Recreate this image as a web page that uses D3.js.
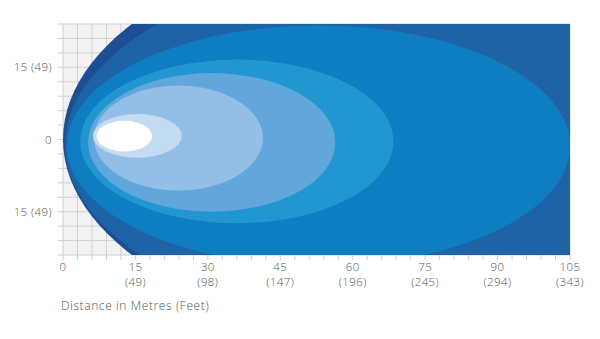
<!DOCTYPE html>
<html><head><meta charset="utf-8">
<script src="https://cdn.jsdelivr.net/npm/d3@7"></script>
<style>
html,body{margin:0;padding:0;background:#fff;}
svg{display:block;}
text{font-family:"Open Sans",sans-serif;font-weight:300;fill:#555;}
</style></head>
<body>
<svg id="chart" width="600" height="339"></svg>
<script>
// ---- data (metres) ----
const xTickValues = [0, 15, 30, 45, 60, 75, 90, 105];
const xTickFeet   = [null, 49, 98, 147, 196, 245, 294, 343];
const yTickValues = [15, 0, -15];
const yTickFeet   = [49, null, 49];
const xDomain = [0, 105];
const yDomain = [-24, 24];
const gridStep = 3;

// beam zones, outermost first
const zoneCentreX    = [77.9, 94.8, 52.9, 36.0, 30.8, 23.9, 15.4, 12.7];
const zoneCentreY    = [0.0, -1.1, -1.3, -0.4, -0.6, 0.3, 0.75, 0.7];
const zoneHalfLength = [77.9, 94.4, 52.1, 32.45, 25.6, 17.5, 9.2, 5.75];
const zoneHalfWidth  = [41.6, 41.6, 25.0, 17.0, 14.4, 10.9, 4.55, 3.2];
const zoneColors = ["#1d4d92", "#1f63a7", "#0f7dc1", "#2196d0", "#62a7dc", "#93bfe7", "#c4dcf2", "#ffffff"];

// ---- layout ----
const svg = d3.select("#chart");
const L = 63, R = 570, T = 24, B = 255;
const x = d3.scaleLinear().domain(xDomain).range([L, R]);
const y = d3.scaleLinear().domain(yDomain).range([B, T]);

svg.append("defs").append("clipPath").attr("id", "plotclip")
  .append("rect").attr("x", L).attr("y", T).attr("width", R - L).attr("height", B - T);

// grid background
svg.append("rect").attr("x", L).attr("y", T).attr("width", R - L).attr("height", B - T).attr("fill", "#f2f2f4");

const gridX = d3.range(xDomain[0], xDomain[1] + 0.001, gridStep);
const gridY = d3.range(yDomain[0], yDomain[1] + 0.001, gridStep);

svg.append("g").selectAll("line").data(gridX).join("line")
  .attr("x1", d => x(d)).attr("x2", d => x(d))
  .attr("y1", T).attr("y2", B + 5)
  .attr("stroke", "#d0d0d2").attr("stroke-width", 1);
svg.append("g").selectAll("line").data(gridY).join("line")
  .attr("x1", L - 5).attr("x2", R)
  .attr("y1", d => y(d)).attr("y2", d => y(d))
  .attr("stroke", "#d0d0d2").attr("stroke-width", 1);

// zones
const zones = d3.range(zoneColors.length).map(i => ({
  cx: zoneCentreX[i], cy: zoneCentreY[i], rx: zoneHalfLength[i], ry: zoneHalfWidth[i], color: zoneColors[i]
}));
svg.append("g").attr("clip-path", "url(#plotclip)")
  .selectAll("ellipse").data(zones).join("ellipse")
  .attr("cx", d => x(d.cx))
  .attr("cy", d => y(d.cy))
  .attr("rx", d => x(d.cx + d.rx) - x(d.cx))
  .attr("ry", d => y(d.cy - d.ry) - y(d.cy))
  .attr("fill", d => d.color);

// x tick labels (two separate lines)
svg.append("g").selectAll("text").data(xTickValues).join("text")
  .attr("x", d => x(d)).attr("y", 271).attr("text-anchor", "middle")
  .style("font-size", "11.5px").style("letter-spacing", "0.4px")
  .text(d => d);
svg.append("g").selectAll("text").data(xTickValues.filter((d, i) => xTickFeet[i] != null)).join("text")
  .attr("x", d => x(d)).attr("y", 286).attr("text-anchor", "middle")
  .style("font-size", "11.5px").style("letter-spacing", "0.4px")
  .text(d => "(" + xTickFeet[xTickValues.indexOf(d)] + ")");

// y tick labels
svg.append("g").selectAll("text").data(yTickValues).join("text")
  .attr("x", 52).attr("y", d => y(d)).attr("dy", "0.35em").attr("text-anchor", "end")
  .style("font-size", "11.5px").style("letter-spacing", "0.4px")
  .text((d, i) => Math.abs(d) + (yTickFeet[i] == null ? "" : " (" + yTickFeet[i] + ")"));

// axis title
svg.append("text").attr("x", 61).attr("y", 310).style("font-size", "12px")
  .style("letter-spacing", "0.6px")
  .text("Distance in Metres (Feet)");
</script>
</body></html>
